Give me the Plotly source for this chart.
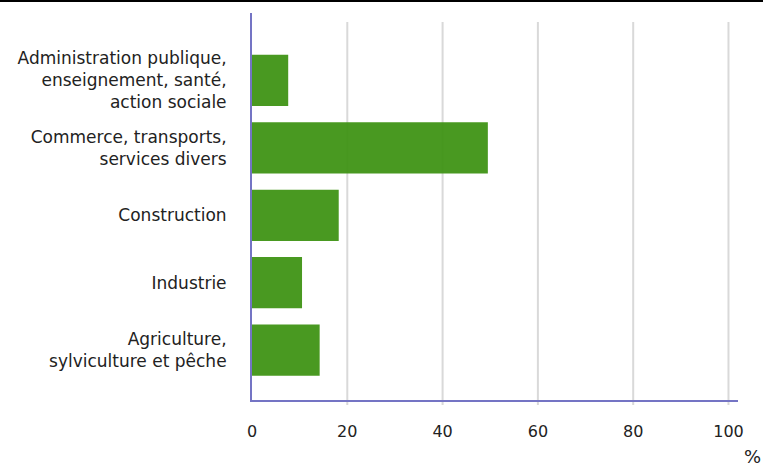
import plotly.graph_objects as go

categories = [
    "Agriculture,<br>sylviculture et pêche",
    "Industrie",
    "Construction",
    "Commerce, transports,<br>services divers",
    "Administration publique,<br>enseignement, santé,<br>action sociale",
]
values = [14.2, 10.5, 18.2, 49.5, 7.6]
x_ticks = [0, 20, 40, 60, 80, 100]

fig = go.Figure(go.Bar(
    x=values, y=categories, orientation="h",
    marker=dict(color="rgb(64,148,22)", line=dict(width=0)),
    opacity=0.95, width=0.76,
))

grid_shapes = [
    dict(type="line", xref="x", yref="paper", x0=t, x1=t, y0=-0.013, y1=0.977,
         line=dict(color="#d9d9d9", width=2), layer="below")
    for t in x_ticks[1:]
]

fig.update_layout(
    width=763, height=469,
    margin=dict(l=252, r=25, t=13, b=69),
    paper_bgcolor="white", plot_bgcolor="white",
    font=dict(family="DejaVu Sans", size=17, color="#222"),
    showlegend=False,
    xaxis=dict(
        range=[0, 102], tickvals=x_ticks, ticktext=[str(t) for t in x_ticks],
        showgrid=False,
        showline=True, linecolor="#7474c4", linewidth=2,
        zeroline=False, ticks="", ticklabelstandoff=16,
        tickfont=dict(size=16),
    ),
    yaxis=dict(
        type="category", categoryorder="array", categoryarray=categories,
        range=[-0.74, 5.0],
        showgrid=False, showline=True, linecolor="#7474c4", linewidth=2,
        ticks="", ticklabelstandoff=20, zeroline=False,
    ),
    shapes=grid_shapes + [dict(type="line", xref="paper", yref="paper",
                 x0=-1, x1=2, y0=1.031, y1=1.031,
                 line=dict(color="black", width=2))],
    annotations=[dict(text="%", xref="paper", yref="paper", x=1.029, y=-0.147,
                      xanchor="center", yanchor="middle", showarrow=False,
                      font=dict(size=18))],
)

fig.write_html("out.html", config={"displayModeBar": False},
               post_script="document.body.style.margin='0';")
